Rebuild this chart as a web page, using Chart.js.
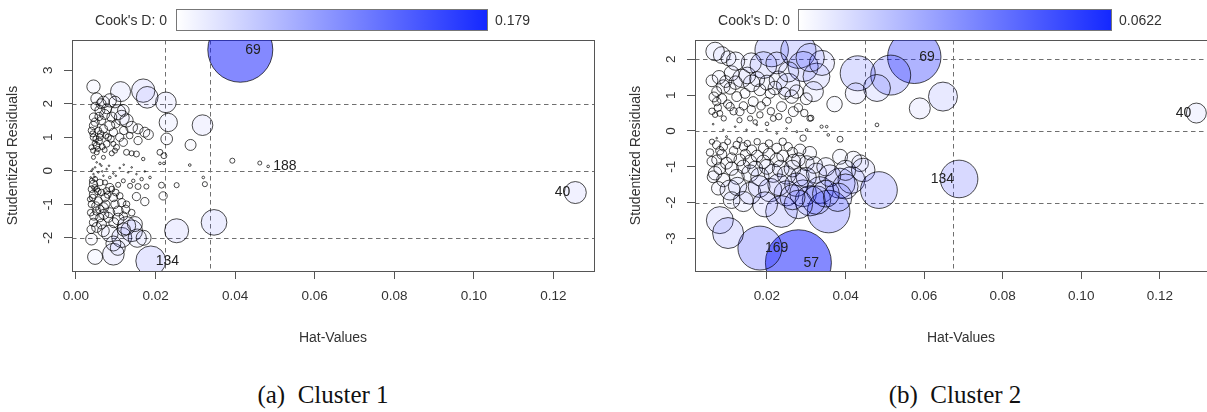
<!DOCTYPE html>
<html>
<head>
<meta charset="utf-8">
<script src="https://cdn.jsdelivr.net/npm/chart.js@4.4.1/dist/chart.umd.min.js"></script>
<style>
body { margin: 0; width: 1207px; height: 412px; overflow: hidden; background: #fff; position: relative;
       font-family: 'Liberation Sans', Arial, sans-serif; color: #333; }
.panel { position: absolute; top: 0; height: 350px; }
.cb-lab { position: absolute; top: 9px; height: 22px; line-height: 22px; font-size: 14px; white-space: nowrap; }
.cb-bar { position: absolute; top: 9px; height: 22px; box-sizing: border-box; border: 1px solid #777;
          background: linear-gradient(to right, #ffffff, rgb(20, 40, 255)); }
.caption { position: absolute; top: 380px; width: 300px; text-align: center; white-space: nowrap;
           font-family: 'Liberation Serif', 'Times New Roman', serif; font-size: 25px; line-height: 30px; color: #111; }
</style>
</head>
<body>
<div class="panel" style="left:0;width:600px"><canvas id="chartA" width="600" height="350"></canvas></div>
<div class="panel" style="left:623px;width:604px"><canvas id="chartB" width="604" height="350"></canvas></div>

<div class="cb-lab" style="left:0;width:167px;text-align:right">Cook's D: 0</div>
<div class="cb-bar" style="left:176px;width:312px"></div>
<div class="cb-lab" id="cbMaxA" style="left:495px"></div>

<div class="cb-lab" style="left:600px;width:190px;text-align:right">Cook's D: 0</div>
<div class="cb-bar" style="left:798px;width:314px"></div>
<div class="cb-lab" id="cbMaxB" style="left:1119px"></div>

<div class="caption" style="left:173px">(a)&nbsp; Cluster 1</div>
<div class="caption" style="left:805px">(b)&nbsp; Cluster 2</div>

<script>
// ---- Cluster 1 : hat values, studentized residuals, Cook's D ----
// the first points are the labelled ones (idA)
var hatA = [0.0413, 0.0188, 0.1255, 0.0483, 0.0347, 0.0253, 0.0318, 0.0169, 0.0179, 0.0226,
    0.0112, 0.0232, 0.0044, 0.0228, 0.0288, 0.0048, 0.0094, 0.0039, 0.0393, 0.0462,
    0.0286, 0.0320, 0.0324, 0.0253, 0.0215, 0.0219, 0.0211, 0.0221, 0.0211, 0.0221,
    0.0085, 0.0115, 0.0140, 0.0154, 0.0094, 0.0127, 0.0069, 0.0052, 0.0064, 0.0106,
    0.0148, 0.0044, 0.0081, 0.0044, 0.0060, 0.0085, 0.0106, 0.0136, 0.0156, 0.0177,
    0.0044, 0.0056, 0.0073, 0.0094, 0.0110, 0.0152, 0.0173, 0.0052, 0.0069, 0.0085,
    0.0106, 0.0119, 0.0039, 0.0037, 0.0039, 0.0052, 0.0064, 0.0077, 0.0098, 0.0127,
    0.0060, 0.0140, 0.0035, 0.0048, 0.0073, 0.0119, 0.0144, 0.0165, 0.0186, 0.0085,
    0.0039, 0.0048, 0.0056, 0.0044, 0.0064, 0.0077, 0.0094, 0.0110, 0.0131, 0.0152,
    0.0173, 0.0052, 0.0037, 0.0069, 0.0052, 0.0069, 0.0085, 0.0060, 0.0077, 0.0106,
    0.0115, 0.0127, 0.0140, 0.0156, 0.0173, 0.0182, 0.0044, 0.0044, 0.0064, 0.0069,
    0.0085, 0.0094, 0.0110, 0.0119, 0.0060, 0.0044, 0.0077, 0.0052, 0.0102, 0.0127,
    0.0152, 0.0140, 0.0169, 0.0052, 0.0069, 0.0090, 0.0039, 0.0039, 0.0056, 0.0081,
    0.0094, 0.0044, 0.0156, 0.0119,
    0.0042, 0.0050, 0.0058, 0.0047, 0.0066, 0.0072, 0.0055, 0.0043, 0.0062, 0.0075,
    0.0088, 0.0098, 0.0048, 0.0058, 0.0072, 0.0090, 0.0100, 0.0120, 0.0135, 0.0048,
    0.0063, 0.0098, 0.0040, 0.0047, 0.0055, 0.0042, 0.0050, 0.0060, 0.0075, 0.0080,
    0.0090, 0.0100, 0.0115, 0.0125, 0.0045, 0.0070, 0.0095, 0.0038, 0.0120, 0.0170,
    0.0105, 0.0042, 0.0060, 0.0083, 0.0100, 0.0120, 0.0047, 0.0066, 0.0140];
var rstudA = [3.61, -2.69, -0.65, 0.13, -1.54, -1.79, 1.36, 2.39, 2.19, 2.04,
    2.36, 1.44, 2.51, 0.95, 0.77, -2.57, -2.49, -2.04, 0.30, 0.23,
    0.17, -0.20, -0.40, -0.43, -0.43, -0.75, 0.55, 0.45, 0.22, 0.22,
    -1.87, -1.99, -1.79, -2.01, -2.17, -1.64, -1.79, -1.69, -1.59, -1.44,
    -1.59, -1.54, -1.39, -0.40, -0.35, -0.50, -0.42, -0.45, -0.47, -0.47,
    -0.70, -0.90, -0.80, -0.80, -0.75, -0.77, -0.92, -1.20, -1.10, -1.25,
    -1.20, -1.35, -1.00, -1.25, -0.55, -0.55, -0.65, -0.60, -1.00, -1.00,
    -1.40, -1.25, -0.85, -0.25, -0.35, -0.30, -0.30, -0.25, -0.20, -0.20,
    0.00, 0.10, -0.05, -0.10, 0.15, 0.05, -0.08, 0.08, -0.05, -0.10,
    -0.02, 0.25, -0.20, -0.15, 2.15, 2.05, 2.10, 1.80, 1.85, 1.75,
    1.58, 1.50, 1.30, 1.25, 1.15, 1.08, 1.60, 1.35, 1.50, 1.25,
    1.35, 1.15, 1.00, 0.85, 1.00, 1.00, 0.80, 0.75, 0.70, 0.55,
    0.50, 0.52, 0.35, 0.55, 0.40, 0.52, 0.70, 1.20, 1.20, 1.00,
    0.80, 0.40, 0.90, 1.80,
    1.10, 0.95, 0.88, 0.82, 0.72, 0.62, 0.65, 0.60, 1.10, 1.05,
    0.95, 0.60, 1.45, 1.62, 1.68, 1.60, 1.40, 1.20, 1.05, 1.92,
    2.00, 2.05, -0.30, -0.50, -0.62, -0.80, -1.05, -1.15, -1.00, -0.72,
    -0.55, -0.65, -0.95, -1.15, -1.35, -1.30, -1.55, -1.75, -1.75, -2.00,
    -2.30, 0.05, 0.20, 0.15, -0.15, 0.18, -0.18, -0.02, 0.10];
var cookA = [0.179, 0.038, 0.0205, 0.0003, 0.0279, 0.0244, 0.0181, 0.0231, 0.0199, 0.0181,
    0.0170, 0.0142, 0.0075, 0.0058, 0.0051, 0.0095, 0.0199, 0.0058, 0.0011, 0.0007,
    0.0003, 0.0003, 0.0011, 0.0011, 0.0015, 0.0029, 0.0015, 0.0015, 0.0003, 0.0003,
    0.0118, 0.0170, 0.0199, 0.0142, 0.0095, 0.0142, 0.0058, 0.0042, 0.0042, 0.0058,
    0.0095, 0.0029, 0.0042, 0.0029, 0.0019, 0.0029, 0.0011, 0.0011, 0.0015, 0.0011,
    0.0029, 0.0029, 0.0029, 0.0029, 0.0019, 0.0029, 0.0029, 0.0029, 0.0042, 0.0042,
    0.0042, 0.0029, 0.0019, 0.0019, 0.0019, 0.0015, 0.0019, 0.0019, 0.0029, 0.0019,
    0.0029, 0.0019, 0.0011, 0.0011, 0.0011, 0.0007, 0.0005, 0.0005, 0.0003, 0.0003,
    0.00008, 0.00008, 0.00008, 0.00008, 0.00008, 0.00008, 0.00008, 0.0001, 0.0001, 0.0001,
    0.0001, 0.0001, 0.00008, 0.00008, 0.0058, 0.0058, 0.0075, 0.0042, 0.0042, 0.0095,
    0.0095, 0.0075, 0.0058, 0.0042, 0.0042, 0.0042, 0.0029, 0.0029, 0.0029, 0.0029,
    0.0042, 0.0029, 0.0029, 0.0029, 0.0019, 0.0019, 0.0019, 0.0019, 0.0015, 0.0015,
    0.0015, 0.0011, 0.0005, 0.0011, 0.0007, 0.0011, 0.0011, 0.0019, 0.0019, 0.0019,
    0.0011, 0.0007, 0.0029, 0.0058,
    0.0015, 0.0015, 0.0019, 0.0011, 0.0015, 0.0011, 0.0011, 0.0011, 0.0019, 0.0015,
    0.0019, 0.0011, 0.0029, 0.0029, 0.0042, 0.0042, 0.0029, 0.0029, 0.0019, 0.0029,
    0.0042, 0.0058, 0.0011, 0.0015, 0.0019, 0.0019, 0.0029, 0.0029, 0.0029, 0.0019,
    0.0015, 0.0019, 0.0029, 0.0029, 0.0029, 0.0042, 0.0042, 0.0029, 0.0075, 0.0095,
    0.0095, 0.00008, 0.0001, 0.0001, 0.0001, 0.0001, 0.00008, 0.00008, 0.0001];
var idA = ['69', '134', '40', '188'];
var idSideA = ['right', 'right', 'left', 'right'];
var cutHatA = [0.0224, 0.0336];   // 2 and 3 times mean hat value

// ---- Cluster 2 ----
var hatB = [0.0280, 0.0182, 0.0575, 0.0689, 0.1293, 0.0648, 0.0589, 0.0515, 0.0480, 0.0431,
    0.0426, 0.0372, 0.0312, 0.0480, 0.0352, 0.0068, 0.0085, 0.0102, 0.0212, 0.0280,
    0.0292, 0.0191, 0.0326, 0.0254, 0.0229, 0.0318, 0.0136, 0.0161, 0.0110, 0.0089,
    0.0072, 0.0072, 0.0106, 0.0123, 0.0144, 0.0182, 0.0208, 0.0199, 0.0165, 0.0263,
    0.0267, 0.0237, 0.0309, 0.0131, 0.0106, 0.0080, 0.0182, 0.0216, 0.0157, 0.0068,
    0.0063, 0.0089, 0.0119, 0.0148, 0.0174, 0.0199, 0.0225, 0.0250, 0.0276, 0.0301,
    0.0339, 0.0097, 0.0072, 0.0386, 0.0356, 0.0072, 0.0089, 0.0123, 0.0140, 0.0161,
    0.0191, 0.0225, 0.0254, 0.0292, 0.0284, 0.0309, 0.0072, 0.0097, 0.0131, 0.0157,
    0.0191, 0.0225, 0.0267, 0.0301, 0.0386, 0.0437, 0.0068, 0.0089, 0.0123, 0.0157,
    0.0182, 0.0216, 0.0250, 0.0284, 0.0326, 0.0106, 0.0157, 0.0208, 0.0250, 0.0292,
    0.0335, 0.0386, 0.0415, 0.0445, 0.0485, 0.0237, 0.0357, 0.0326, 0.0140, 0.0110,
    0.0076, 0.0063, 0.0080, 0.0101,
    0.0060, 0.0078, 0.0095, 0.0120, 0.0150, 0.0175, 0.0200, 0.0220, 0.0245, 0.0275,
    0.0300, 0.0255, 0.0225, 0.0160, 0.0120, 0.0340, 0.0310, 0.0065, 0.0085, 0.0100,
    0.0115, 0.0140, 0.0160, 0.0185, 0.0210, 0.0230, 0.0255, 0.0280, 0.0295, 0.0075,
    0.0060, 0.0090, 0.0130, 0.0170, 0.0200,
    0.0060, 0.0080, 0.0100, 0.0115, 0.0130, 0.0150, 0.0175, 0.0205, 0.0240, 0.0265,
    0.0055, 0.0060, 0.0085, 0.0110, 0.0145, 0.0175, 0.0205, 0.0240, 0.0280, 0.0320,
    0.0350, 0.0400, 0.0420, 0.0080, 0.0110, 0.0140, 0.0170, 0.0200, 0.0235, 0.0265,
    0.0300, 0.0360, 0.0400, 0.0125, 0.0180, 0.0230, 0.0275, 0.0310, 0.0280, 0.0195,
    0.0265, 0.0350, 0.0380];
var rstudB = [-3.68, -3.27, 2.07, -1.34, 0.50, 0.96, 0.63, 1.56, 1.20, 1.61,
    1.05, 0.75, 0.36, 0.17, 0.12, 2.22, 2.12, 2.03, 2.26, 2.24,
    1.80, 1.84, 1.52, 1.28, 1.42, 1.10, 1.47, 1.33, 1.61, 1.24,
    1.10, 0.82, 1.19, 0.96, 1.05, 1.15, 1.05, 0.82, 0.82, 0.96,
    0.54, 0.68, 0.35, 0.54, 0.68, 0.49, 0.45, 0.35, 0.35, 0.45,
    0.19, 0.03, 0.12, 0.03, 0.17, 0.03, -0.07, 0.07, -0.02, 0.03,
    0.12, -0.16, -0.20, -0.23, -0.11, -0.39, -0.44, -0.39, -0.44, -0.53,
    -0.48, -0.48, -0.44, -0.20, -0.53, -0.62, -0.81, -0.90, -0.81, -0.86,
    -0.86, -0.81, -0.86, -0.90, -0.72, -0.90, -1.18, -1.37, -1.28, -1.18,
    -1.28, -1.18, -1.23, -1.28, -1.18, -1.65, -1.74, -1.65, -1.74, -1.74,
    -1.65, -1.46, -1.37, -1.09, -1.65, -2.25, -2.25, -1.93, -1.97, -1.93,
    -1.60, -1.28, -2.49, -2.85,
    1.40, 1.50, 1.38, 1.35, 1.55, 1.45, 1.35, 1.20, 1.05, 1.10,
    0.90, 1.65, 1.90, 1.90, 1.95, 1.90, 2.05, 0.95, 0.90, 0.75,
    0.55, 0.70, 0.60, 0.70, 0.55, 0.40, 0.30, 0.65, 0.50, 0.65,
    0.55, 0.35, 0.30, 0.25, 0.20,
    -0.30, -0.55, -0.30, -0.55, -0.25, -0.35, -0.30, -0.35, -0.30, -0.60,
    -0.60, -0.85, -0.65, -0.75, -0.65, -0.70, -0.65, -0.70, -0.80, -0.95,
    -1.00, -1.10, -0.80, -1.05, -1.05, -1.00, -1.05, -1.00, -1.05, -1.05,
    -1.30, -1.25, -1.55, -1.55, -1.55, -1.50, -1.50, -1.95, -2.05, -2.05,
    -1.85, -1.75, -1.85];
var cookB = [0.0622, 0.0276, 0.0407, 0.0202, 0.0057, 0.0120, 0.0063, 0.0228, 0.0104, 0.0175,
    0.0063, 0.0034, 0.0005, 0.0002, 0.0001, 0.0049, 0.0040, 0.0032, 0.0160, 0.0177,
    0.0130, 0.0103, 0.0103, 0.0079, 0.0048, 0.0058, 0.0048, 0.0040, 0.0032, 0.0026,
    0.0014, 0.0010, 0.0020, 0.0014, 0.0014, 0.0020, 0.0014, 0.0010, 0.0014, 0.0026,
    0.0014, 0.0014, 0.0005, 0.0010, 0.0010, 0.0005, 0.0006, 0.0005, 0.0004, 0.0004,
    0.00004, 0.00004, 0.00004, 0.00004, 0.00004, 0.00004, 0.00004, 0.00004, 0.00006, 0.0001,
    0.00015, 0.00006, 0.00004, 0.0005, 0.0001, 0.0010, 0.0010, 0.0008, 0.0010, 0.0014,
    0.0014, 0.0014, 0.0010, 0.0006, 0.0020, 0.0026, 0.0014, 0.0020, 0.0020, 0.0026,
    0.0026, 0.0026, 0.0032, 0.0032, 0.0032, 0.0040, 0.0026, 0.0026, 0.0032, 0.0040,
    0.0048, 0.0048, 0.0048, 0.0048, 0.0058, 0.0058, 0.0068, 0.0079, 0.0090, 0.0103,
    0.0103, 0.0130, 0.0103, 0.0079, 0.0193, 0.0144, 0.0259, 0.0116, 0.0058, 0.0040,
    0.0026, 0.0020, 0.0104, 0.0137,
    0.0020, 0.0026, 0.0020, 0.0026, 0.0040, 0.0032, 0.0032, 0.0026, 0.0020, 0.0026,
    0.0020, 0.0058, 0.0068, 0.0058, 0.0048, 0.0090, 0.0115, 0.0014, 0.0014, 0.0010,
    0.0008, 0.0010, 0.0010, 0.0010, 0.0008, 0.0006, 0.0005, 0.0010, 0.0008, 0.0008,
    0.0006, 0.0004, 0.0004, 0.0003, 0.0002,
    0.0004, 0.0010, 0.0005, 0.0010, 0.0004, 0.0006, 0.0006, 0.0008, 0.0008, 0.0014,
    0.0008, 0.0014, 0.0014, 0.0014, 0.0014, 0.0020, 0.0020, 0.0020, 0.0026, 0.0040,
    0.0048, 0.0058, 0.0040, 0.0020, 0.0026, 0.0026, 0.0032, 0.0032, 0.0040, 0.0040,
    0.0058, 0.0068, 0.0090, 0.0048, 0.0068, 0.0068, 0.0079, 0.0130, 0.0116, 0.0090,
    0.0090, 0.0103, 0.0116];
var idB = ['57', '169', '69', '134', '40'];
var idSideB = ['right', 'right', 'right', 'left', 'left'];
var cutHatB = [0.0449, 0.0673];

var cutResid = [-2, 0, 2];

Chart.defaults.font.family = "'Liberation Sans', Arial, sans-serif";
Chart.defaults.color = '#333';

function makeInfluencePlot(canvasId, hat, rstud, cook, ids, sides, cutHat, xMin, xMax, yMin, yMax, rMax, padRight) {
    var cmax = Math.max.apply(null, cook);

    // radius ~ sqrt(Cook's D), fill opacity ~ Cook's D
    var points = hat.map(function (h, i) {
        return { x: h, y: rstud[i], r: Math.max(0.8, rMax * Math.sqrt(cook[i] / cmax)) };
    });
    var fills = cook.map(function (c) {
        return 'rgba(10, 20, 255, ' + (0.5 * c / cmax).toFixed(3) + ')';
    });

    // dashed cut-off lines, frame and point labels
    var decorations = {
        id: 'decorations',
        beforeDatasetsDraw: function (chart) {
            var ctx = chart.ctx, a = chart.chartArea, sx = chart.scales.x, sy = chart.scales.y;
            ctx.save();
            ctx.strokeStyle = '#6f6f6f';
            ctx.lineWidth = 1;
            ctx.setLineDash([4.5, 3.5]);
            cutHat.forEach(function (v) {
                var px = Math.round(sx.getPixelForValue(v)) + 0.5;
                ctx.beginPath(); ctx.moveTo(px, a.top); ctx.lineTo(px, a.bottom); ctx.stroke();
            });
            cutResid.forEach(function (v) {
                var py = Math.round(sy.getPixelForValue(v)) + 0.5;
                ctx.beginPath(); ctx.moveTo(a.left, py); ctx.lineTo(a.right, py); ctx.stroke();
            });
            ctx.setLineDash([]);
            ctx.strokeStyle = '#555';
            ctx.strokeRect(a.left + 0.5, a.top + 0.5, a.right - a.left, a.bottom - a.top);
            ctx.restore();
        },
        afterDatasetsDraw: function (chart) {
            var ctx = chart.ctx, sx = chart.scales.x, sy = chart.scales.y;
            ctx.save();
            ctx.font = "14px 'Liberation Sans', Arial, sans-serif";
            ctx.fillStyle = '#222';
            ctx.textBaseline = 'middle';
            ids.forEach(function (t, i) {
                var px = sx.getPixelForValue(hat[i]);
                var py = sy.getPixelForValue(rstud[i]);
                if (sides[i] === 'left') {
                    ctx.textAlign = 'right';
                    ctx.fillText(t, px - 5, py);
                } else {
                    ctx.textAlign = 'left';
                    ctx.fillText(t, px + 5, py);
                }
            });
            ctx.restore();
        }
    };

    return new Chart(document.getElementById(canvasId).getContext('2d'), {
        type: 'bubble',
        data: {
            datasets: [{
                data: points,
                backgroundColor: fills,
                borderColor: 'rgba(0, 0, 0, 0.7)',
                borderWidth: 1,
                clip: 0
            }]
        },
        options: {
            responsive: false,
            animation: false,
            events: [],
            devicePixelRatio: 1,
            // no extra room for the bubbles, the frame is fixed
            layout: { autoPadding: false, padding: { top: 40, right: padRight, left: 0, bottom: 0 } },
            plugins: { legend: { display: false }, tooltip: { enabled: false } },
            scales: {
                x: {
                    type: 'linear',
                    min: xMin,
                    max: xMax,
                    afterFit: function (s) { s.height = 79; s.paddingLeft = 0; s.paddingRight = 0; },
                    border: { display: false },
                    grid: { drawOnChartArea: false, tickLength: 8, color: '#555' },
                    ticks: {
                        stepSize: 0.02, includeBounds: false, autoSkip: false, maxRotation: 0,
                        padding: 9, color: '#333', font: { size: 13.5 },
                        callback: function (v) { return v.toFixed(2); }
                    },
                    title: {
                        display: true, text: 'Hat-Values', color: '#333',
                        font: { size: 14 }, padding: { top: 0, bottom: 3 }
                    }
                },
                y: {
                    type: 'linear',
                    min: yMin,
                    max: yMax,
                    afterFit: function (s) { s.width = 72; s.paddingTop = 0; s.paddingBottom = 0; },
                    border: { display: false },
                    grid: { drawOnChartArea: false, tickLength: 8, color: '#555' },
                    ticks: {
                        stepSize: 1, includeBounds: false, autoSkip: false,
                        minRotation: 90, maxRotation: 90, crossAlign: 'center',
                        padding: 10, color: '#333', font: { size: 13.5 },
                        callback: function (v) { return String(v); }
                    },
                    title: {
                        display: true, text: 'Studentized Residuals', color: '#333',
                        font: { size: 14 }, padding: { top: 5, bottom: 0 }
                    }
                }
            }
        },
        plugins: [decorations]
    });
}

var chartA = makeInfluencePlot('chartA', hatA, rstudA, cookA, idA, idSideA, cutHatA,
    -0.001, 0.1302, -2.99, 3.90, 32.5, 6);
var chartB = makeInfluencePlot('chartB', hatB, rstudB, cookB, idB, idSideB, cutHatB,
    0.00168, 0.1371, -3.91, 2.54, 33, 0);

document.getElementById('cbMaxA').textContent = Math.max.apply(null, cookA).toPrecision(3);
document.getElementById('cbMaxB').textContent = Math.max.apply(null, cookB).toPrecision(3);
</script>
</body>
</html>
